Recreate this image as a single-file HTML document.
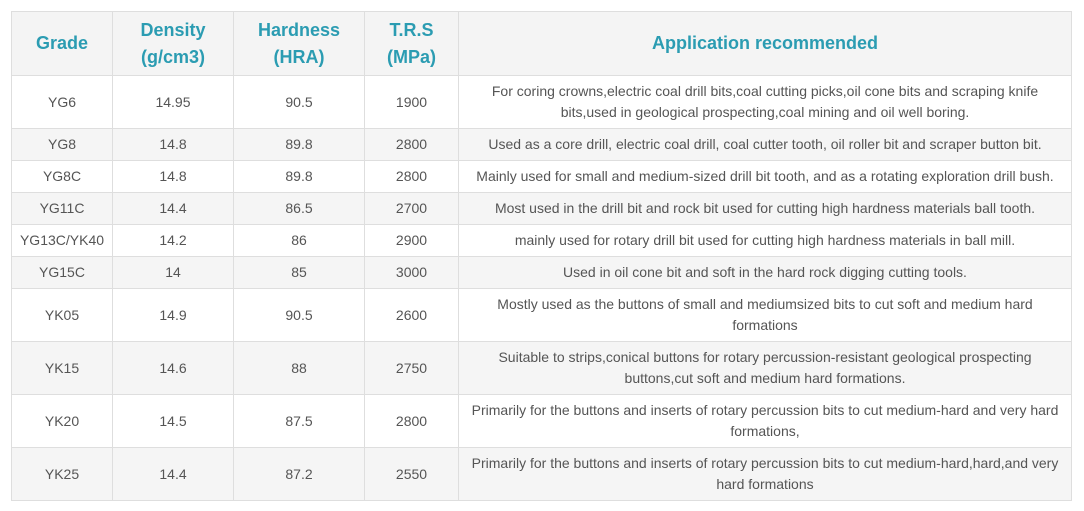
<!DOCTYPE html>
<html><head><meta charset="utf-8"><style>
body{margin:0;background:#fff;width:1084px;height:511px;overflow:hidden;font-family:"Liberation Sans",Arial,sans-serif;}
table{position:absolute;left:11px;top:11px;border-collapse:collapse;table-layout:fixed;width:1060px;}
td,th{border:1px solid #dedede;text-align:center;vertical-align:middle;padding:0 10px;color:#555;font-size:14px;line-height:21px;}
th{background:#f4f4f4;color:#2b9cb2;font-size:18px;line-height:27px;font-weight:bold;height:63px;}
tr.s td{height:31px;}
tr.t td{height:52px;}
tr.g td{background:#f5f5f5;}
</style></head><body>
<table>
<colgroup><col style="width:101px"><col style="width:121px"><col style="width:131px"><col style="width:94px"><col style="width:613px"></colgroup>
<tr><th>Grade</th><th>Density<br>(g/cm3)</th><th>Hardness<br>(HRA)</th><th>T.R.S<br>(MPa)</th><th>Application recommended</th></tr>
<tr class="t"><td>YG6</td><td>14.95</td><td>90.5</td><td>1900</td><td>For coring crowns,electric coal drill bits,coal cutting picks,oil cone bits and scraping knife bits,used in geological prospecting,coal mining and oil well boring.</td></tr>
<tr class="s g"><td>YG8</td><td>14.8</td><td>89.8</td><td>2800</td><td>Used as a core drill, electric coal drill, coal cutter tooth, oil roller bit and scraper button bit.</td></tr>
<tr class="s"><td>YG8C</td><td>14.8</td><td>89.8</td><td>2800</td><td style="padding:0">Mainly used for small and medium-sized drill bit tooth, and as a rotating exploration drill bush.</td></tr>
<tr class="s g"><td>YG11C</td><td>14.4</td><td>86.5</td><td>2700</td><td>Most used in the drill bit and rock bit used for cutting high hardness materials ball tooth.</td></tr>
<tr class="s"><td style="padding:0">YG13C/YK40</td><td>14.2</td><td>86</td><td>2900</td><td>mainly used for rotary drill bit used for cutting high hardness materials in ball mill.</td></tr>
<tr class="s g"><td>YG15C</td><td>14</td><td>85</td><td>3000</td><td>Used in oil cone bit and soft in the hard rock digging cutting tools.</td></tr>
<tr class="t"><td>YK05</td><td>14.9</td><td>90.5</td><td>2600</td><td style="padding:0 30px">Mostly used as the buttons of small and mediumsized bits to cut soft and medium hard formations</td></tr>
<tr class="t g"><td>YK15</td><td>14.6</td><td>88</td><td>2750</td><td>Suitable to strips,conical buttons for rotary percussion-resistant geological prospecting buttons,cut soft and medium hard formations.</td></tr>
<tr class="t"><td>YK20</td><td>14.5</td><td>87.5</td><td>2800</td><td>Primarily for the buttons and inserts of rotary percussion bits to cut medium-hard and very hard formations,</td></tr>
<tr class="t g"><td>YK25</td><td>14.4</td><td>87.2</td><td>2550</td><td>Primarily for the buttons and inserts of rotary percussion bits to cut medium-hard,hard,and very hard formations</td></tr>
</table>
</body></html>
